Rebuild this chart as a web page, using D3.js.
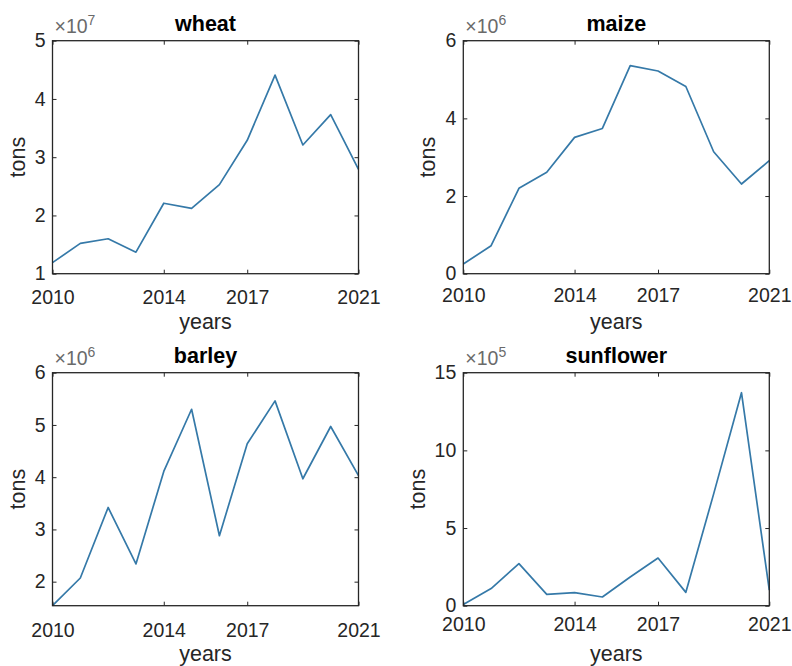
<!DOCTYPE html>
<html>
<head>
<meta charset="utf-8">
<script src="https://cdn.jsdelivr.net/npm/d3@7/dist/d3.min.js"></script>
<style>
  body { margin: 0; background: #fff; }
  svg { display: block; }
  text { font-family: "Liberation Sans", Arial, Helvetica, sans-serif; }
</style>
</head>
<body>
<svg id="chart" width="792" height="666"></svg>
<script>
// Annual production per crop, in tons
const years = [2010, 2011, 2012, 2013, 2014, 2015, 2016, 2017, 2018, 2019, 2020, 2021];
const xTickYears = [2010, 2014, 2017, 2021];

const cropNames = ["wheat", "maize", "barley", "sunflower"];

const wheat = [11900000, 15200000, 16000000, 13700000, 22100000, 21200000,
               25300000, 32900000, 44100000, 32100000, 37300000, 27900000];
const maize = [250000, 720000, 2200000, 2610000, 3510000, 3740000,
               5360000, 5220000, 4820000, 3140000, 2310000, 2910000];
const barley = [1540000, 2070000, 3420000, 2340000, 4110000, 5300000,
                2880000, 4640000, 5460000, 3970000, 4970000, 4030000];
const sunflower = [8000, 110000, 271000, 73000, 84000, 56000,
                   185000, 307000, 86000, 720000, 1371000, 100000];

// Tick values on each y axis, in units of 10^exponent
const wheatTicks = [1, 2, 3, 4, 5];
const maizeTicks = [0, 2, 4, 6];
const barleyTicks = [2, 3, 4, 5, 6];
const sunflowerTicks = [0, 5, 10, 15];
const exponents = [7, 6, 6, 5];

const seriesValues = [wheat, maize, barley, sunflower];
const seriesTicks = [wheatTicks, maizeTicks, barleyTicks, sunflowerTicks];
// y limits in scaled units; barley's lower limit follows its data minimum
const yUpper = [5, 6, 6, 15];
const yLower = [1, 0, null, 0];

// Panel geometry
const layout = [
  { left: 52.5, top: 40.7, xPad: 16 },
  { left: 463.3, top: 40.7, xPad: 14 },
  { left: 52.5, top: 372.7, xPad: 17.5 },
  { left: 463.3, top: 372.7, xPad: 11 }
];
const W = 306, H = 233;
const axisColor = "#262626";
const lineColor = "#3579a8";
const tickFont = 19.5, labelFont = 21.5;

const svg = d3.select("#chart");

cropNames.forEach((name, i) => {
  const L = layout[i];
  const scaleFactor = Math.pow(10, exponents[i]);
  const vals = seriesValues[i];
  const lo = yLower[i] === null ? d3.min(vals) / scaleFactor : yLower[i];

  const x = d3.scaleLinear().domain([d3.min(years), d3.max(years)]).range([0, W]);
  const y = d3.scaleLinear().domain([lo, yUpper[i]]).range([H, 0]);

  const g = svg.append("g").attr("transform", `translate(${L.left},${L.top})`);

  // white plotting area
  g.append("rect").attr("width", W).attr("height", H).attr("fill", "#fff");

  // series line
  const line = d3.line()
    .x((d, k) => x(years[k]))
    .y(d => y(d / scaleFactor));
  g.append("path")
    .datum(vals)
    .attr("fill", "none")
    .attr("stroke", lineColor)
    .attr("stroke-width", 1.7)
    .attr("stroke-linejoin", "round")
    .attr("d", line);

  const styleAxis = sel => {
    sel.select(".domain").remove();
    sel.selectAll(".tick line").attr("stroke", axisColor).attr("stroke-width", 1);
    sel.selectAll("text")
      .attr("fill", axisColor)
      .style("font-size", tickFont + "px")
      .style("font-family", '"Liberation Sans", Arial, sans-serif');
  };

  // bottom and left axes with labels; inward ticks
  g.append("g")
    .attr("transform", `translate(0,${H})`)
    .call(d3.axisBottom(x).tickValues(xTickYears).tickFormat(d3.format("d"))
      .tickSize(-4).tickPadding(L.xPad))
    .call(styleAxis);

  const yAxisG = g.append("g")
    .call(d3.axisLeft(y).tickValues(seriesTicks[i]).tickFormat(d3.format("~g"))
      .tickSize(-4).tickPadding(7))
    .call(styleAxis);

  // mirrored ticks on top and right
  g.append("g")
    .call(d3.axisTop(x).tickValues(xTickYears).tickFormat(() => "").tickSize(-4))
    .call(styleAxis);
  g.append("g")
    .attr("transform", `translate(${W},0)`)
    .call(d3.axisRight(y).tickValues(seriesTicks[i]).tickFormat(() => "").tickSize(-4))
    .call(styleAxis);

  // axes box
  g.append("rect")
    .attr("width", W).attr("height", H)
    .attr("fill", "none")
    .attr("stroke", axisColor)
    .attr("stroke-width", 1.3);

  // title
  g.append("text")
    .attr("x", W / 2).attr("y", -10)
    .attr("text-anchor", "middle")
    .attr("font-weight", "bold")
    .attr("fill", "#000")
    .style("font-size", labelFont + "px")
    .text(name);

  // exponent marker
  const ex = g.append("text")
    .attr("x", 2).attr("y", -8)
    .attr("fill", "#6a6a6a")
    .style("font-size", tickFont + "px");
  ex.append("tspan").text("\u00d710");
  ex.append("tspan").attr("dy", -8).style("font-size", "14px").text(exponents[i]);

  // x label
  g.append("text")
    .attr("x", W / 2).attr("y", H + 55.5)
    .attr("text-anchor", "middle")
    .attr("fill", axisColor)
    .style("font-size", labelFont + "px")
    .text("years");

  // y label, placed left of the widest tick label
  let maxW = 0;
  yAxisG.selectAll("text").each(function () {
    maxW = Math.max(maxW, this.getComputedTextLength());
  });
  g.append("text")
    .attr("transform", `translate(${-7 - maxW - 10},${H / 2}) rotate(-90)`)
    .attr("text-anchor", "middle")
    .attr("fill", axisColor)
    .style("font-size", labelFont + "px")
    .text("tons");
});
</script>
</body>
</html>
